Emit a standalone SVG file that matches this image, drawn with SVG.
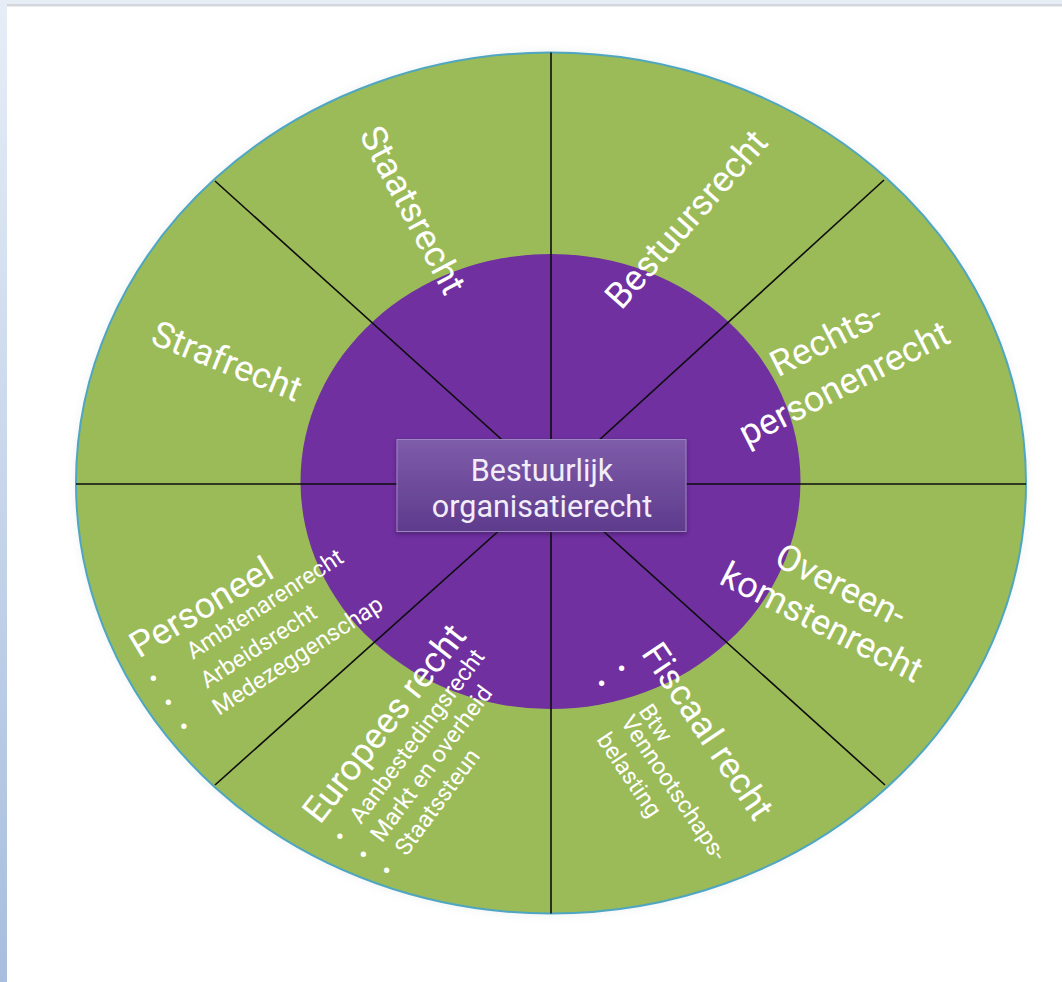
<svg xmlns="http://www.w3.org/2000/svg" width="1062" height="982" viewBox="0 0 1062 982">
<defs>
<linearGradient id="leftStrip" x1="0" y1="0" x2="0" y2="1">
<stop offset="0" stop-color="#e6edf7"/>
<stop offset="1" stop-color="#a7bede"/>
</linearGradient>
<linearGradient id="boxGrad" x1="0" y1="0" x2="0" y2="1">
<stop offset="0" stop-color="#7e5caa"/>
<stop offset="1" stop-color="#5e3b8c"/>
</linearGradient>
<filter id="soft" x="-10%" y="-10%" width="120%" height="120%">
<feGaussianBlur stdDeviation="4"/>
</filter>
<filter id="boxShadow" x="-10%" y="-20%" width="120%" height="150%">
<feDropShadow dx="0" dy="2" stdDeviation="2" flood-color="#2a0a45" flood-opacity="0.5"/>
</filter>
</defs>
<style>
.lbl{font-family:Roboto,"Liberation Sans",sans-serif;fill:#ffffff}
.h{font-size:36px}
.s{font-size:23.5px}
.ctr{font-family:Roboto,"Liberation Sans",sans-serif;font-size:30.5px;fill:#f2edf8}
.conn{stroke:#0d0d0d;stroke-width:1.6;fill:none}
.bul{font-family:Roboto,"Liberation Sans",sans-serif;font-size:26px;fill:#ffffff}
</style>
<rect x="0" y="0" width="1062" height="982" fill="#ffffff"/>
<rect x="0" y="0" width="1062" height="4" fill="#e8eef6"/>
<rect x="7" y="4" width="1055" height="2.5" fill="#d3d7dc"/>
<rect x="0" y="0" width="7" height="982" fill="url(#leftStrip)"/>

<g id="outer-ring">
<ellipse cx="551" cy="483" rx="477" ry="433" fill="#e9ecef" filter="url(#soft)" opacity="0.6"/>
<ellipse cx="551" cy="483" rx="475" ry="430.5" fill="#9bbb59" stroke="#4fa6c0" stroke-width="2"/>
</g>
<g id="inner-circle">
<ellipse cx="550.5" cy="481.5" rx="250" ry="227.5" fill="#7030a0"/>
</g>

<g id="connectors">
<line class="conn" x1="551" y1="52.5" x2="551" y2="913.5"/>
<line class="conn" x1="76" y1="484" x2="1026" y2="484"/>
<line class="conn" x1="215" y1="181" x2="551" y2="484"/>
<line class="conn" x1="884" y1="180" x2="551" y2="484"/>
<line class="conn" x1="215" y1="785" x2="551" y2="484"/>
<line class="conn" x1="885" y1="785" x2="551" y2="484"/>
</g>

<g id="staatsrecht">
<text class="lbl h" text-anchor="middle" transform="translate(413,210) rotate(62)" y="12.5">Staatsrecht</text>
</g>
<g id="bestuursrecht">
<text class="lbl h" text-anchor="middle" transform="translate(686,219) rotate(-48.5)" y="12.5">Bestuursrecht</text>
</g>
<g id="strafrecht">
<text class="lbl h" text-anchor="middle" transform="translate(227,361) rotate(22)" y="12.5">Strafrecht</text>
</g>
<g id="rechtspersonenrecht">
<text class="lbl h" text-anchor="middle" transform="translate(826,339) rotate(-27)" y="12.5">Rechts-</text>
<text class="lbl h" text-anchor="middle" transform="translate(844,383) rotate(-27)" y="12.5">personenrecht</text>
</g>
<g id="overeenkomstenrecht">
<text class="lbl h" text-anchor="middle" transform="translate(841,585) rotate(27)" y="12.5">Overeen-</text>
<text class="lbl h" text-anchor="middle" transform="translate(822,622) rotate(27)" y="12.5">komstenrecht</text>
</g>
<g id="personeel">
<text class="lbl h" text-anchor="middle" transform="translate(201,607) rotate(-31)" y="12.5">Personeel</text>
<text class="lbl s" transform="translate(193,660) rotate(-33)">Ambtenarenrecht</text>
<text class="lbl s" transform="translate(207,689) rotate(-33)">Arbeidsrecht</text>
<text class="lbl s" transform="translate(219,716) rotate(-33)">Medezeggenschap</text>
<text class="bul" text-anchor="middle" x="153.3" y="688">•</text>
<text class="bul" text-anchor="middle" x="168.3" y="711.5">•</text>
<text class="bul" text-anchor="middle" x="184" y="736">•</text>
</g>
<g id="europees-recht">
<text class="lbl h" text-anchor="middle" transform="translate(384,723) rotate(-52)" y="12.5">Europees recht</text>
<text class="lbl s" transform="translate(361,825) rotate(-53.5)">Aanbestedingsrecht</text>
<text class="lbl s" transform="translate(382,843.5) rotate(-53.5)">Markt en overheid</text>
<text class="lbl s" transform="translate(406.5,857) rotate(-53.5)">Staatssteun</text>
<text class="bul" text-anchor="middle" x="340" y="846">•</text>
<text class="bul" text-anchor="middle" x="363.3" y="863.7">•</text>
<text class="bul" text-anchor="middle" x="386.7" y="880.4">•</text>
</g>
<g id="fiscaal-recht">
<text class="lbl h" text-anchor="middle" transform="translate(708,731) rotate(56)" y="12.5">Fiscaal recht</text>
<text class="lbl s" transform="translate(638,711) rotate(56)">Btw</text>
<text class="lbl s" transform="translate(620,722) rotate(56)">Vennootschaps-</text>
<text class="lbl s" transform="translate(596,739.5) rotate(56)">belasting</text>
<text class="bul" text-anchor="middle" x="621.7" y="678">•</text>
<text class="bul" text-anchor="middle" x="601.7" y="692.7">•</text>
</g>

<g id="center-box">
<rect x="397" y="439.5" width="289" height="92" fill="url(#boxGrad)" stroke="#9d86c2" stroke-width="1" filter="url(#boxShadow)"/>
<text class="ctr" text-anchor="middle" x="542" y="481">Bestuurlijk</text>
<text class="ctr" text-anchor="middle" x="542" y="517">organisatierecht</text>
</g>
</svg>
